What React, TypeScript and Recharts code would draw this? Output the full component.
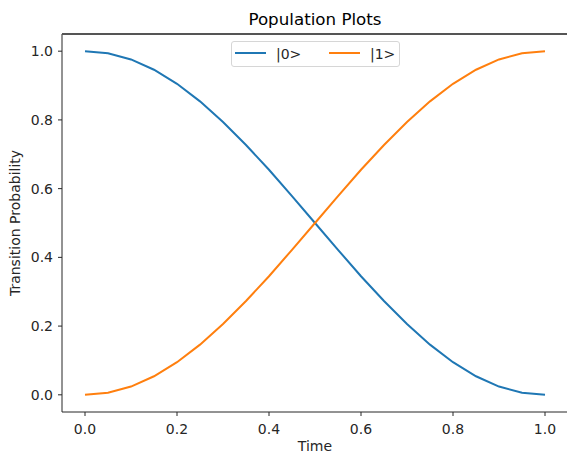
import { LineChart, Line, XAxis, YAxis, Label } from "recharts";

// sample times and populations
const times = [0, 0.05, 0.1, 0.15, 0.2, 0.25, 0.3, 0.35, 0.4, 0.45, 0.5, 0.55, 0.6, 0.65, 0.7, 0.75, 0.8, 0.85, 0.9, 0.95, 1.0];
const pop0 = [1.0, 0.994, 0.976, 0.946, 0.905, 0.854, 0.794, 0.727, 0.655, 0.578, 0.5, 0.422, 0.345, 0.273, 0.206, 0.146, 0.095, 0.054, 0.024, 0.006, 0.0];
const pop1 = [0.0, 0.006, 0.024, 0.054, 0.095, 0.146, 0.206, 0.273, 0.345, 0.422, 0.5, 0.578, 0.655, 0.727, 0.794, 0.854, 0.905, 0.946, 0.976, 0.994, 1.0];
const xTicks = [0, 0.2, 0.4, 0.6, 0.8, 1.0];
const yTicks = [0, 0.2, 0.4, 0.6, 0.8, 1.0];
const seriesNames = ["|0>", "|1>"];

const data = times.map((t, i) => ({ t, p0: pop0[i], p1: pop1[i] }));

const FONT = "'DejaVu Sans', sans-serif";
const INK = "#262626";
const BLUE = "#1f77b4";
const ORANGE = "#ff7f0e";

// matplotlib-style legend box, upper center
function LegendBox() {
  return (
    <div style={{ position: "absolute", left: 231, top: 41, width: 169, height: 26, boxSizing: "border-box", border: "1px solid #d6d6d6", borderRadius: 3, background: "#fff", fontFamily: FONT, fontSize: 14, color: INK }}>
      <div style={{ position: "absolute", left: 3, top: 10, width: 31, height: 2, background: BLUE }} />
      <div style={{ position: "absolute", left: 44, top: 3, lineHeight: "18px" }}>{seriesNames[0]}</div>
      <div style={{ position: "absolute", left: 97, top: 10, width: 31, height: 2, background: ORANGE }} />
      <div style={{ position: "absolute", left: 138, top: 3, lineHeight: "18px" }}>{seriesNames[1]}</div>
    </div>
  );
}

export default function App() {
  return (
    <div style={{ position: "absolute", left: 0, top: 0, width: 567, height: 453, overflow: "hidden", background: "#fff" }}>
      <div style={{ position: "absolute", left: 62, width: 506, top: 9, textAlign: "center", fontFamily: FONT, fontSize: 16.7, lineHeight: "20px", color: "#000" }}>
        Population Plots
      </div>
      <div style={{ position: "absolute", left: 0, top: 0 }}>
        <LineChart width={575} height={453} data={data} margin={{ top: 34, right: 7, bottom: 0, left: 0 }}>
          <XAxis
            dataKey="t"
            type="number"
            domain={[-0.05, 1.05]}
            ticks={xTicks}
            tickFormatter={(v: number) => v.toFixed(1)}
            height={41}
            tickSize={4}
            tickMargin={8}
            axisLine={{ stroke: INK }}
            tickLine={{ stroke: INK }}
            tick={{ fontSize: 14, fontFamily: FONT, fill: INK }}
            allowDataOverflow
          >
            <Label value="Time" position="insideBottom" offset={2} style={{ fontSize: 14, fontFamily: FONT, fill: INK }} />
          </XAxis>
          <YAxis
            type="number"
            domain={[-0.05, 1.05]}
            ticks={yTicks}
            tickFormatter={(v: number) => v.toFixed(1)}
            width={62}
            tickSize={4}
            tickMargin={5}
            axisLine={{ stroke: INK }}
            tickLine={{ stroke: INK }}
            tick={{ fontSize: 14, fontFamily: FONT, fill: INK }}
            allowDataOverflow
          >
            <Label
              content={() => (
                <text x={16} y={223} transform="rotate(-90 16 223)" textAnchor="middle" dominantBaseline="middle" style={{ fontSize: 14, fontFamily: FONT, fill: INK }}>
                  Transition Probability
                </text>
              )}
            />
          </YAxis>
          <Line type="linear" dataKey="p0" name={seriesNames[0]} stroke={BLUE} strokeWidth={2} dot={false} isAnimationActive={false} />
          <Line type="linear" dataKey="p1" name={seriesNames[1]} stroke={ORANGE} strokeWidth={2} dot={false} isAnimationActive={false} />
        </LineChart>
      </div>
      {/* top spine (right spine falls outside the crop) */}
      <div style={{ position: "absolute", left: 62, top: 33, width: 506, height: 2, background: "#555", pointerEvents: "none" }} />
      <LegendBox />
    </div>
  );
}
